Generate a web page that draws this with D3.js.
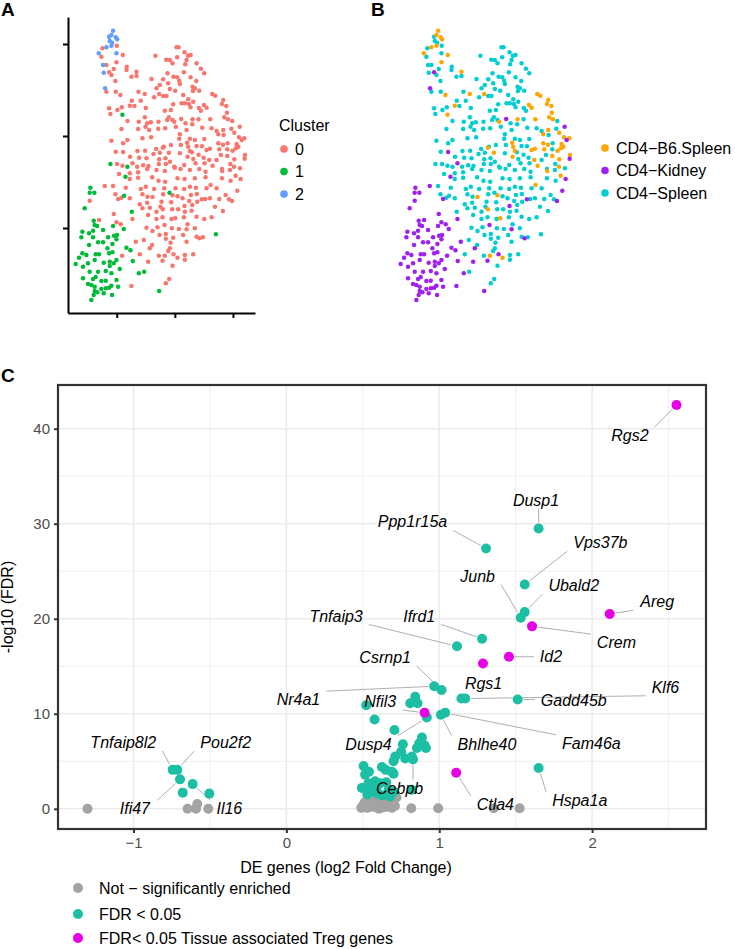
<!DOCTYPE html>
<head>
  <meta charset="utf-8">
  <script src="https://d3js.org/d3.v7.min.js"></script>
  <style>
    body { margin: 0; background: #fff; }
    text { font-family: "Liberation Sans", Arial, sans-serif; }
  </style>
</head>
<body>

<svg width="735" height="949"></svg>

<script type="text/javascript">
// ---- tSNE embedding (panels A and B share the same cells) ----
// points grouped by cluster (A colour) and sample (B colour): [tSNE_1, tSNE_2]
var c2B6 = [[-18.5,31.6],[-19.0,30.3],[-17.7,29.6],[-17.3,29.0],[-19.0,27.1],[-20.5,26.6],[-22.8,24.8]];
var c2Spleen = [[-19.7,29.8],[-19.5,28.5],[-18.8,28.0],[-17.5,24.8],[-21.5,21.3],[-21.3,19.0]];
var c2Kidney = [[-20.9,14.3]];

var c1B6 = [[-15.7,6.4]];
var c1Spleen = [[-19.3,-8.4],[-14.2,-9.2],[-15.2,-17.9],[-1.6,-17.0],[-12.9,-22.7],[-9.2,-40.7],[12.3,-29.5]];
var c1Kidney = [[-14.8,-12.2],[-25.3,-15.5],[-25.5,-17.0],[-24.1,-17.0],[-27.0,-21.7],[-24.3,-25.4],[-24.0,-26.7],
  [-23.3,-27.0],[-18.5,-27.0],[-15.3,-27.9],[-21.5,-28.2],[-24.5,-28.4],[-27.7,-28.7],[-25.7,-29.2],[-28.0,-30.4],
  [-20.0,-30.4],[-18.2,-29.9],[-17.3,-29.7],[-17.5,-31.0],[-24.5,-30.4],[-25.7,-32.7],[-23.0,-31.9],[-21.5,-31.9],
  [-18.7,-32.4],[-14.5,-33.5],[-13.3,-34.3],[-20.2,-33.7],[-18.7,-34.9],[-19.7,-35.2],[-22.7,-35.5],[-27.7,-35.2],
  [-28.7,-36.5],[-26.5,-35.7],[-23.7,-35.5],[-26.0,-38.2],[-24.0,-37.2],[-21.3,-38.0],[-19.5,-37.7],[-17.5,-37.2],
  [-12.6,-37.5],[-29.7,-38.4],[-27.5,-39.2],[-25.5,-40.7],[-23.0,-40.7],[-20.7,-40.5],[-19.5,-39.0],[-18.3,-38.2],
  [-16.5,-39.9],[-19.0,-41.2],[-10.8,-41.2],[-27.5,-42.7],[-24.5,-42.9],[-23.7,-42.3],[-22.0,-43.5],[-20.7,-43.4],
  [-17.5,-43.2],[-26.0,-44.4],[-25.0,-44.7],[-24.0,-45.2],[-22.0,-45.9],[-20.7,-45.7],[-19.7,-45.5],[-19.0,-44.9],
  [-17.0,-45.2],[-24.0,-46.5],[-23.2,-46.9],[-24.3,-47.7],[-21.3,-47.2],[-18.8,-47.7],[-25.0,-49.2],[-4.7,-46.5]];

var c0Kidney = [[-19.7,19.1],[1.9,5.1],[19.4,2.8],[20.0,-1.2],[-15.5,-4.8],[20.9,-6.8],[-12.7,-8.2],
  [-21.0,-15.0],[19.7,-12.9],[18.7,-16.4],[17.1,-19.5],[8.1,-19.0],[-25.5,-19.4],[-17.0,-18.9],[2.9,-21.0],
  [-18.3,-23.4],[-12.7,-24.9],[-22.7,-25.2],[-3.1,-26.7],[-17.5,-25.9],[-16.2,-26.5],[3.5,-28.0],[7.4,-30.7],
  [-11.7,-31.7],[-7.5,-33.7],[-15.8,-35.9],[-0.4,-35.5],[-3.7,-37.4],[-8.0,-37.7],[-13.0,-45.0]];

var c0B6 = [[-15.6,24.3],[-17.5,22.1],[-11.5,19.3],[-16.3,12.3],[-9.0,12.6],[-4.7,12.6],[11.2,12.6],[12.1,12.1],
  [8.7,9.3],[9.5,8.5],[14.5,10.8],[14.1,9.6],[15.4,9.0],[-13.5,9.1],[15.6,7.0],[-0.2,4.3],[5.3,5.0],[10.6,5.0],
  [14.8,5.6],[15.9,5.0],[14.5,1.8],[13.0,0.5],[17.8,1.0],[19.2,-0.4],[20.8,-0.7],[3.7,-2.0],[4.0,-3.2],[13.0,-2.2],
  [14.4,-2.6],[18.5,-2.4],[19.0,-3.2],[18.3,-3.7],[-3.6,-3.5],[9.5,-4.2],[10.5,-3.8],[13.3,-4.0],[17.3,-4.4],
  [4.5,-4.5],[-1.8,-5.0],[3.8,-6.2],[10.3,-7.2],[15.7,-6.0],[17.8,-7.0],[21.0,-5.7],[11.3,-8.9],[17.7,-9.2],
  [14.2,-10.5],[18.2,-11.9],[10.7,-14.7],[-6.7,-18.3],[-0.7,-17.8],[-3.6,-22.0],[0.1,-24.7],[-3.0,-35.9],[0.8,-36.5]];

var c0Spleen = [[-17.4,27.1],[-21.7,26.3],[0.5,26.6],[1.1,26.6],[-22.0,23.8],[-5.8,24.1],[2.9,25.1],[4.7,24.3],
  [3.9,24.1],[0.7,23.6],[-2.6,22.9],[-1.5,22.8],[3.5,22.8],[-20.5,21.3],[-18.3,20.1],[-14.4,20.8],[-14.5,19.8],
  [-0.7,21.8],[3.1,21.5],[6.5,21.8],[7.8,20.2],[-19.0,18.3],[-13.0,17.8],[-11.5,18.0],[-7.0,17.1],[-2.2,18.8],
  [-0.4,17.8],[0.7,17.6],[2.7,19.1],[4.7,17.6],[8.8,18.8],[-3.5,17.0],[-17.8,16.5],[-4.5,15.3],[-2.0,15.8],
  [1.3,16.6],[1.5,15.6],[6.4,16.5],[5.3,14.8],[6.0,14.3],[-5.5,14.3],[-1.5,14.1],[0.1,13.6],[-20.5,13.3],
  [-17.7,13.3],[-10.9,13.3],[-3.5,12.0],[-2.5,12.0],[-6.2,11.6],[2.5,12.3],[4.0,11.0],[5.4,13.5],[7.3,13.6],
  [-12.9,10.6],[-10.2,10.6],[5.5,10.3],[-0.5,9.5],[2.0,9.8],[3.0,9.8],[4.2,9.6],[-19.7,8.3],[-17.2,7.8],
  [-15.9,8.6],[-12.1,9.0],[-8.7,8.4],[-3.0,7.6],[-1.2,7.8],[4.7,8.6],[7.2,8.4],[7.8,7.6],[-19.3,6.6],[-1.8,5.6],
  [-2.3,4.8],[-0.7,4.8],[7.1,5.0],[17.2,4.5],[-14.2,4.5],[-10.8,4.3],[-9.0,5.6],[-8.3,3.8],[-7.2,4.1],[-4.9,4.3],
  [-8.8,2.8],[-7.7,1.8],[-11.0,2.1],[-16.0,2.1],[-5.0,2.2],[-2.9,2.3],[0.3,2.8],[3.2,3.8],[3.5,1.8],[5.2,3.5],
  [8.2,2.5],[11.0,2.3],[12.5,1.5],[16.9,2.2],[1.5,0.5],[1.3,-0.8],[-9.7,-0.7],[-7.1,-0.4],[-14.2,-1.2],
  [-19.0,-1.4],[4.5,-0.8],[6.0,-1.2],[8.8,-0.9],[14.6,0.3],[-15.5,-2.2],[1.8,-2.7],[6.5,-3.0],[8.1,-3.1],
  [15.8,-2.2],[-3.3,-3.2],[-5.6,-3.9],[-1.2,-2.7],[-11.2,-4.5],[-8.9,-4.4],[-17.7,-4.7],[15.7,-4.0],[5.1,-4.9],
  [-4.5,-5.0],[-6.4,-5.4],[1.5,-5.2],[5.5,-6.9],[7.1,-5.6],[8.6,-6.5],[12.5,-7.2],[13.8,-5.7],[-10.7,-6.5],
  [-8.5,-6.7],[-4.7,-7.0],[-2.8,-6.7],[-1.5,-7.7],[-13.4,-6.2],[-17.3,-8.4],[-15.7,-8.9],[-11.3,-9.2],[-9.5,-8.8],
  [-7.9,-9.0],[-4.8,-8.4],[-2.7,-8.4],[-0.2,-9.2],[2.8,-8.7],[6.2,-8.2],[8.9,-8.2],[14.1,-9.9],[16.6,-8.4],
  [19.5,-9.7],[-16.7,-11.4],[-13.5,-11.2],[-11.0,-10.9],[-8.3,-9.9],[-5.5,-10.2],[-3.0,-10.5],[0.0,-9.5],
  [1.7,-9.9],[4.5,-10.2],[7.3,-9.9],[9.2,-10.7],[16.5,-10.2],[-13.5,-12.9],[-11.0,-12.5],[-6.8,-12.4],
  [-4.9,-13.4],[-2.9,-13.7],[0.8,-12.7],[2.9,-12.9],[6.0,-12.7],[9.2,-12.4],[14.1,-12.7],[16.7,-13.4],
  [-18.5,-15.0],[-14.7,-15.5],[-10.2,-15.9],[-8.7,-15.2],[-9.7,-17.5],[-6.2,-15.9],[-3.2,-15.7],[0.2,-15.7],
  [2.8,-15.9],[4.5,-15.2],[6.3,-15.5],[9.5,-15.7],[12.5,-15.7],[-17.8,-17.5],[-16.0,-18.5],[-13.5,-18.7],
  [-8.2,-18.2],[-3.5,-17.5],[0.8,-18.1],[2.3,-18.7],[4.8,-17.7],[6.6,-17.4],[10.5,-18.7],[13.3,-18.9],
  [15.2,-17.7],[16.2,-19.0],[-10.5,-20.5],[-8.3,-20.0],[-4.0,-19.7],[-1.1,-19.9],[4.3,-19.5],[6.7,-19.7],
  [5.2,-20.7],[9.1,-18.9],[12.0,-21.2],[14.4,-22.5],[-9.7,-21.7],[-7.5,-21.5],[-5.5,-22.7],[-4.3,-21.2],
  [-0.8,-22.0],[1.0,-22.0],[3.0,-22.7],[5.0,-22.4],[-8.0,-23.7],[-5.5,-24.9],[-3.7,-24.4],[-1.0,-24.9],
  [2.7,-24.4],[6.5,-24.2],[11.0,-24.4],[8.8,-24.9],[-8.5,-27.5],[-5.2,-27.4],[-0.9,-27.7],[1.2,-27.9],
  [3.8,-26.5],[6.0,-27.7],[-6.7,-28.5],[-4.6,-29.7],[-2.7,-29.4],[-0.5,-30.5],[2.5,-29.7],[6.5,-30.2],
  [8.4,-30.4],[-9.3,-31.2],[-6.8,-32.7],[-2.7,-30.8],[-1.3,-32.0],[-1.5,-33.7],[3.5,-31.7],[-2.0,-34.5],
  [-10.5,-35.5],[-4.8,-35.9],[3.0,-35.7],[5.5,-35.5],[3.0,-37.1],[-0.7,-38.9],[-1.7,-42.9],[-2.7,-44.2]];

var tsneXTicks = [-17.4, 0, 17.4];
var tsneYTicks = [27.6, 0, -27.6];

var clusters = ["0", "1", "2"];
var samples = ["CD4\u2212B6.Spleen", "CD4\u2212Kidney", "CD4\u2212Spleen"];

// ---- volcano plot (panel C): [log2 fold change, -log10 FDR, gene] ----
var notSig = [[-1.301,0],[-0.646,0],[-0.591,0],[-0.583,0.5],[-0.511,0],[0.817,0.05],[0.993,0.05],[1.356,0.05],
  [1.526,0.05],[0.50,0.3],[0.52,0.8],[0.53,0.1],[0.55,0.5],[0.56,1.0],[0.57,0.2],[0.58,0.6],[0.59,1.2],[0.60,0.3],
  [0.61,0.8],[0.62,0.1],[0.63,0.5],[0.64,1.0],[0.65,0.2],[0.66,0.7],[0.67,1.3],[0.68,0.4],[0.70,0.9],[0.72,1.2],
  [0.54,1.3],[0.51,0.6],[0.575,0.9],[0.605,0.0],[0.625,0.9],[0.69,0.1],[0.49,0.1],[0.71,0.3]];

var fdrSig = [[1.650,29.5,"Dusp1"],[1.306,27.4,"Ppp1r15a"],[1.559,23.6,"Vps37b"],[1.559,20.7,"Ubald2"],
  [1.533,20.1,"Junb"],[1.280,17.9,"Ifrd1"],[1.116,17.1,"Tnfaip3"],[0.967,12.9,"Nr4a1"],[1.015,12.5,"Csrnp1"],
  [1.145,11.6,"Rgs1"],[1.170,11.6,"Klf6"],[1.513,11.5,"Gadd45b"],[0.919,9.6,"Dusp4"],[1.011,9.9,"Bhlhe40"],
  [1.039,10.1,"Fam46a"],[1.650,4.3,"Hspa1a"],[0.828,5.2,"Cebpb"],
  [0.843,11.8],[0.810,11.1],[0.858,11.1],[0.522,10.9],[0.577,9.4],[0.707,8.3],[0.887,7.5],[0.869,6.9],
  [0.902,6.7],[0.854,6.4],[0.913,6.4],[0.762,6.8],[0.751,6.0],[0.821,5.5],[0.712,5.5],[0.701,5.0],[0.777,5.3],
  [0.505,4.5],[0.515,3.6],[0.540,3.9],[0.625,4.4],[0.650,4.1],[0.690,3.9],[0.701,3.7],[0.505,2.2],[0.537,2.7],
  [0.581,2.9],[0.614,2.7],[0.653,2.8],[0.592,2.3],[0.669,2.0],[0.679,1.3],[0.702,1.8],[0.821,2.0],[0.494,2.2],
  [0.53,1.5],[0.56,1.8],[0.60,1.6],[0.63,1.4],
  [-0.744,4.1,"Tnfaip8l2"],[-0.714,4.1,"Pou2f2"],[-0.696,3.1,"Ifi47"],[-0.613,2.6,"Il16"],[-0.678,1.7],[-0.504,1.6]];

var tregSig = [[2.552,42.5,"Rgs2"],[2.115,20.5,"Areg"],[1.607,19.2,"Crem"],[1.456,16.0,"Id2"],[1.286,15.3],
  [0.904,10.1,"Nfil3"],[1.111,3.8,"Ctla4"]];

var groups = ["Not \u2212 significantly enriched", "FDR < 0.05", "FDR< 0.05 Tissue associated Treg genes"];
var fcTicks = [-1, 0, 1, 2];
var fdrTicks = [0, 10, 20, 30, 40];

// where ggrepel put each gene label (data units, label centre)
var labelSpots = {
  Rgs2: [2.247, 39.3], Dusp1: [1.633, 32.5], Ppp1r15a: [0.825, 30.2], Vps37b: [2.054, 28.0],
  Junb: [1.251, 24.5], Ubald2: [1.880, 23.5], Areg: [2.426, 21.8], Tnfaip3: [0.325, 20.3],
  Ifrd1: [0.869, 20.3], Crem: [2.159, 17.5], Id2: [1.731, 16.0], Csrnp1: [0.646, 15.9],
  Rgs1: [1.290, 13.2], Klf6: [2.480, 12.8], Nr4a1: [0.079, 11.5], Gadd45b: [1.880, 11.4],
  Nfil3: [0.614, 11.3], Dusp4: [0.537, 6.8], Bhlhe40: [1.312, 6.8], Fam46a: [1.995, 6.9],
  Cebpb: [0.741, 2.2], Ctla4: [1.367, 0.5], Hspa1a: [1.919, 0.9],
  Tnfaip8l2: [-1.067, 7.0], Pou2f2: [-0.397, 7.0], Ifi47: [-0.991, 0.0], Il16: [-0.373, 0.0]
};

var svg = d3.select("svg");

// ================= panels A and B =================
var cells = [];
function addCells(list, cluster, sample) {
  list.forEach(function(d) { cells.push({ t1: d[0], t2: d[1], cluster: cluster, sample: sample }); });
}
addCells(c0Spleen, "0", samples[2]);
addCells(c0B6, "0", samples[0]);
addCells(c0Kidney, "0", samples[1]);
addCells(c1Kidney, "1", samples[1]);
addCells(c1Spleen, "1", samples[2]);
addCells(c1B6, "1", samples[0]);
addCells(c2Spleen, "2", samples[2]);
addCells(c2B6, "2", samples[0]);
addCells(c2Kidney, "2", samples[1]);

var clusterColor = d3.scaleOrdinal().domain(clusters).range(["#F8766D", "#00BA38", "#619CFF"]);
var sampleColor = d3.scaleOrdinal().domain(samples).range(["#FFA500", "#A020F0", "#00CED1"]);

var xT = d3.scaleLinear().domain([-32, 24]).range([68, 255]);
var yT = d3.scaleLinear().domain([-53.1, 35.7]).range([313, 17]);
var cellR = 2.25;

// panel A
var gA = svg.append("g");
gA.selectAll("circle").data(cells).enter().append("circle")
  .attr("cx", function(d) { return xT(d.t1); })
  .attr("cy", function(d) { return yT(d.t2); })
  .attr("r", cellR)
  .style("fill", function(d) { return clusterColor(d.cluster); });

var axY = gA.append("g").attr("transform", "translate(68,0)")
  .call(d3.axisLeft(yT).tickValues(tsneYTicks).tickFormat("").tickSizeInner(5).tickSizeOuter(0));
var axX = gA.append("g").attr("transform", "translate(0,313)")
  .call(d3.axisBottom(xT).tickValues(tsneXTicks).tickFormat("").tickSizeInner(5).tickSizeOuter(0));
[axY, axX].forEach(function(a) {
  a.selectAll("path, line").attr("stroke", "#000").attr("stroke-width", 2);
});

gA.append("text").attr("x", 279).attr("y", 131).style("font-size", "16px").text("Cluster");
var legA = gA.selectAll("g.legA").data(clusters).enter().append("g")
  .attr("transform", function(d, i) { return "translate(284," + (149 + i * 22.5) + ")"; });
legA.append("circle").attr("r", 3.8).style("fill", function(d) { return clusterColor(d); });
legA.append("text").attr("x", 11).attr("dy", "0.35em").style("font-size", "16px").text(function(d) { return d; });

// panel B (same embedding, coloured by sample)
var gB = svg.append("g").attr("transform", "translate(325,0)");
gB.selectAll("circle").data(cells).enter().append("circle")
  .attr("cx", function(d) { return xT(d.t1); })
  .attr("cy", function(d) { return yT(d.t2); })
  .attr("r", cellR)
  .style("fill", function(d) { return sampleColor(d.sample); });

var legB = gB.selectAll("g.legB").data(samples).enter().append("g")
  .attr("transform", function(d, i) { return "translate(280," + (148 + i * 22.5) + ")"; });
legB.append("circle").attr("r", 3.8).style("fill", function(d) { return sampleColor(d); });
legB.append("text").attr("x", 11).attr("dy", "0.35em").style("font-size", "16px").text(function(d) { return d; });

// ================= panel C: volcano =================
var genes = [];
notSig.forEach(function(d) { genes.push({ fc: d[0], fdr: d[1], name: d[2], grp: groups[0] }); });
fdrSig.forEach(function(d) { genes.push({ fc: d[0], fdr: d[1], name: d[2], grp: groups[1] }); });
tregSig.forEach(function(d) { genes.push({ fc: d[0], fdr: d[1], name: d[2], grp: groups[2] }); });

var grpColor = d3.scaleOrdinal().domain(groups).range(["#A3A3A3", "#1CBFA3", "#E600E6"]);

var xV = d3.scaleLinear().domain([-1.494, 2.745]).range([58, 706]);
var yV = d3.scaleLinear().domain([-2.125, 44.6]).range([829, 385]);
var ptR = 5;

var gC = svg.append("g");
// minor grid
gC.selectAll("line.minx").data([-0.5, 0.5, 1.5, 2.5]).enter().append("line")
  .attr("x1", xV).attr("x2", xV).attr("y1", 385).attr("y2", 829)
  .attr("stroke", "#ebebeb").attr("stroke-width", 0.8);
gC.selectAll("line.miny").data([5, 15, 25, 35]).enter().append("line")
  .attr("y1", yV).attr("y2", yV).attr("x1", 58).attr("x2", 706)
  .attr("stroke", "#ebebeb").attr("stroke-width", 0.8);
// major grid
gC.selectAll("line.majx").data(fcTicks).enter().append("line")
  .attr("x1", xV).attr("x2", xV).attr("y1", 385).attr("y2", 829)
  .attr("stroke", "#ebebeb").attr("stroke-width", 1.6);
gC.selectAll("line.majy").data(fdrTicks).enter().append("line")
  .attr("y1", yV).attr("y2", yV).attr("x1", 58).attr("x2", 706)
  .attr("stroke", "#ebebeb").attr("stroke-width", 1.6);

var segLayer = gC.append("g");

gC.selectAll("circle.gene").data(genes).enter().append("circle")
  .attr("cx", function(d) { return xV(d.fc); })
  .attr("cy", function(d) { return yV(d.fdr); })
  .attr("r", ptR)
  .style("fill", function(d) { return grpColor(d.grp); });

// gene labels with repel-style segments
var named = genes.filter(function(d) { return d.name; });
gC.selectAll("text.gene").data(named).enter().append("text")
  .attr("x", function(d) { return xV(labelSpots[d.name][0]); })
  .attr("y", function(d) { return yV(labelSpots[d.name][1]); })
  .attr("text-anchor", "middle")
  .attr("dy", "0.35em")
  .style("font-size", "16px")
  .style("font-style", "italic")
  .text(function(d) { return d.name; })
  .each(function(d) {
    var bb = this.getBBox();
    var px = xV(d.fc), py = yV(d.fdr);
    var x0 = bb.x - 6, x1 = bb.x + bb.width + 6, y0 = bb.y, y1 = bb.y + bb.height;
    var nx = Math.max(x0, Math.min(px, x1)), ny = Math.max(y0, Math.min(py, y1));
    var dx = nx - px, dy = ny - py, len = Math.sqrt(dx * dx + dy * dy);
    if (len < ptR + 7) return;
    segLayer.append("line")
      .attr("x1", px + dx / len * (ptR + 1)).attr("y1", py + dy / len * (ptR + 1))
      .attr("x2", nx).attr("y2", ny)
      .attr("stroke", "#8c8c8c").attr("stroke-width", 0.7);
  });

// frame
gC.append("rect").attr("x", 58).attr("y", 385).attr("width", 648).attr("height", 444)
  .style("fill", "none").style("stroke", "#333").style("stroke-width", 2.2);

var axC = gC.append("g").attr("transform", "translate(58,0)")
  .call(d3.axisLeft(yV).tickValues(fdrTicks).tickFormat(d3.format("d"))
    .tickSizeInner(4).tickSizeOuter(0).tickPadding(4));
var axCx = gC.append("g").attr("transform", "translate(0,829)")
  .call(d3.axisBottom(xV).tickValues(fcTicks).tickFormat(d3.format("d"))
    .tickSizeInner(4).tickSizeOuter(0).tickPadding(4));
[axC, axCx].forEach(function(a) {
  a.select(".domain").remove();
  a.selectAll("line").attr("stroke", "#333").attr("stroke-width", 2);
  a.selectAll("text").style("font-size", "15px").style("fill", "#4d4d4d")
    .style("font-family", "'Liberation Sans', Arial, sans-serif");
});

gC.append("text").attr("transform", "translate(13,607) rotate(-90)")
  .attr("text-anchor", "middle").style("font-size", "16px").text("-log10 (FDR)");
gC.append("text").attr("x", 346).attr("y", 873)
  .attr("text-anchor", "middle").style("font-size", "16px").text("DE genes (log2 Fold Change)");

var legC = gC.selectAll("g.legC").data(groups).enter().append("g")
  .attr("transform", function(d, i) { return "translate(78," + [888, 914, 938][i] + ")"; });
legC.append("circle").attr("r", 5).style("fill", function(d) { return grpColor(d); });
legC.append("text").attr("x", 21).attr("dy", "0.35em").style("font-size", "16px").text(function(d) { return d; });

// panel letters
svg.selectAll("text.tag").data([["A", 1, 16], ["B", 371, 16], ["C", 1, 382]]).enter().append("text")
  .attr("x", function(d) { return d[1]; }).attr("y", function(d) { return d[2]; })
  .style("font-size", "19px").style("font-weight", "bold").text(function(d) { return d[0]; });
</script>
</body>
</html>
